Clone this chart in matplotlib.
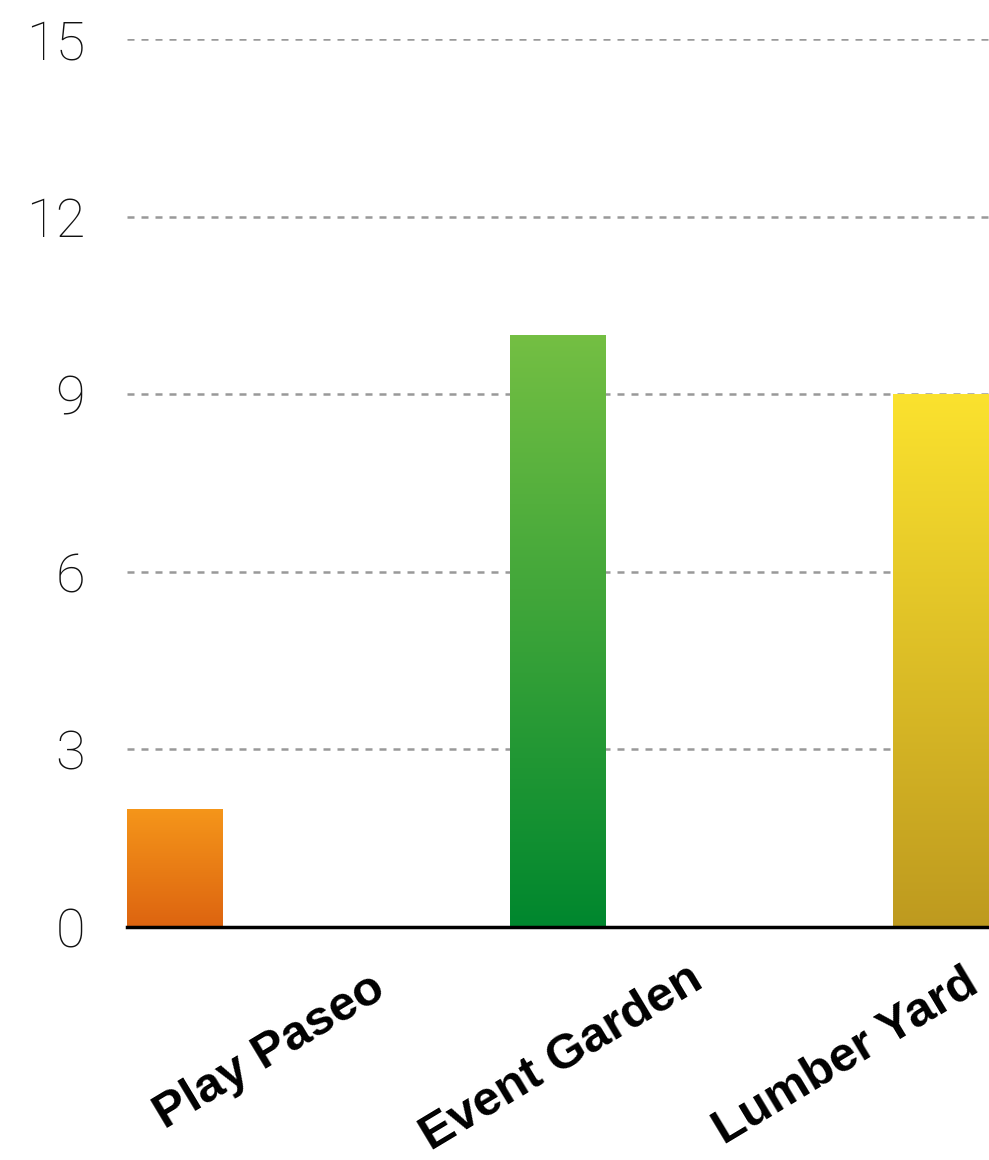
import numpy as np
import matplotlib
matplotlib.use("Agg")
import matplotlib.pyplot as plt
from matplotlib.colors import LinearSegmentedColormap

categories = ["Play Paseo", "Event Garden", "Lumber Yard"]
values = [2, 10, 9]
top_colors = ["#F5961A", "#74BF43", "#FBE22E"]
bottom_colors = ["#DD6410", "#00872E", "#BE9A1F"]
yticks = [0, 3, 6, 9, 12, 15]

W, H = 989, 1160
fig = plt.figure(figsize=(W / 100, H / 100), dpi=100)
ax = fig.add_axes([127 / W, (H - 927) / H, (989 - 127) / W, (927 - 39) / H])

bw = 0.25
x = np.arange(len(categories))
ax.set_xlim(-bw / 2, len(categories) - 1 + bw / 2)
ax.set_ylim(0, 15)

for yv in yticks[1:]:
    ax.axhline(yv, color="#999999", lw=1.8, ls=(0, (2.8, 2.8)), zorder=1)

bars = ax.bar(x, values, width=bw, color="none", edgecolor="none", zorder=2)
grad = np.linspace(0, 1, 256).reshape(-1, 1)
for b, tc, bc in zip(bars, top_colors, bottom_colors):
    cmap = LinearSegmentedColormap.from_list("g", [bc, tc])
    x0, y0 = b.get_x(), b.get_y()
    im = ax.imshow(grad, cmap=cmap, aspect="auto", origin="lower",
                   extent=[x0, x0 + b.get_width(), y0, y0 + b.get_height()],
                   zorder=2)
    im.set_clip_path(b)

ax.axhline(0, color="black", lw=2.5, zorder=3, clip_on=False)

for s in ax.spines.values():
    s.set_visible(False)
ax.set_xticks([])
ax.set_yticks(yticks)
ax.tick_params(axis="y", length=0, pad=30)
for t in ax.get_yticklabels():
    t.set_fontsize(39)
    t.set_fontfamily(["Roboto", "DejaVu Sans"])
    t.set_fontweight("light")
    t.set_color("#111111")

label_centers = [(270, 1052), (562, 1058), (846, 1057)]
for lab, (px, py) in zip(categories, label_centers):
    fig.text(px / W, 1 - py / H, lab, rotation=31, ha="center", va="center",
             rotation_mode="anchor", fontsize=35.5, fontweight="bold",
             family=["Liberation Sans", "DejaVu Sans"])

fig.savefig("out.png", dpi=100)
